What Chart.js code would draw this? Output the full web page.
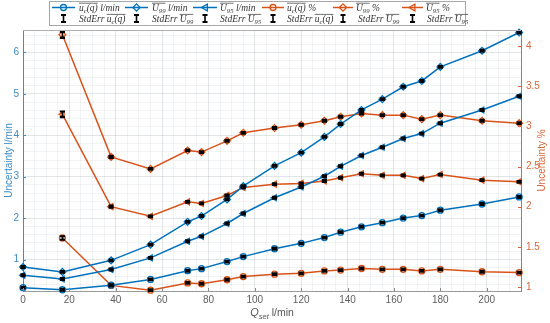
<!DOCTYPE html>
<html><head><meta charset="utf-8">
<script src="https://cdn.jsdelivr.net/npm/chart.js@4/dist/chart.umd.min.js"></script>
<style>html,body{margin:0;padding:0;background:#fff;}#wrap{width:550px;height:323px;position:relative;}</style>
</head><body><div id="wrap"><canvas id="c" width="550" height="323"></canvas></div>
<script>
// ---- data ----
const Qset     = [0,17,38,55,71,77,88,95,108.5,120,130,137,146,155,164,172,180,198,214];
const uc_lmin  = [0.32,0.27,0.38,0.52,0.73,0.78,0.95,1.07,1.26,1.39,1.53,1.66,1.79,1.89,2.00,2.06,2.19,2.34,2.51];
const U99_lmin = [0.82,0.70,0.98,1.36,1.91,2.05,2.45,2.77,3.26,3.58,3.96,4.27,4.61,4.87,5.17,5.31,5.65,6.04,6.48];
const U95_lmin = [0.62,0.53,0.76,1.04,1.44,1.56,1.87,2.11,2.49,2.75,3.01,3.25,3.51,3.71,3.92,4.04,4.29,4.61,4.94];
const uc_pct   = [null,1.61,1.02,0.96,1.05,1.04,1.09,1.13,1.16,1.17,1.20,1.21,1.23,1.22,1.22,1.20,1.22,1.19,1.18];
const U99_pct  = [null,4.14,2.62,2.47,2.70,2.68,2.82,2.92,2.98,3.02,3.07,3.12,3.16,3.14,3.14,3.09,3.14,3.07,3.04];
const U95_pct  = [null,3.15,2.00,1.88,2.06,2.04,2.14,2.24,2.28,2.29,2.32,2.36,2.41,2.39,2.39,2.35,2.40,2.33,2.31];
// standard errors
const se_uc_lmin  = [0.02,0.02,0.02,0.02,0.02,0.02,0.02,0.02,0.02,0.02,0.02,0.02,0.02,0.02,0.02,0.02,0.02,0.02,0.02];
const se_U99_lmin = [0.02,0.02,0.02,0.02,0.02,0.02,0.02,0.02,0.02,0.02,0.02,0.02,0.02,0.02,0.02,0.02,0.02,0.02,0.02];
const se_U95_lmin = [0.02,0.02,0.02,0.02,0.02,0.02,0.02,0.02,0.02,0.02,0.02,0.02,0.02,0.02,0.02,0.02,0.02,0.02,0.02];
const se_uc_pct   = [null,0.022,0.01,0.01,0.01,0.01,0.01,0.01,0.01,0.01,0.01,0.01,0.01,0.01,0.01,0.01,0.01,0.01,0.01];
const se_U99_pct  = [null,0.037,0.012,0.01,0.01,0.01,0.01,0.01,0.01,0.01,0.01,0.01,0.01,0.01,0.01,0.01,0.01,0.01,0.01];
const se_U95_pct  = [null,0.035,0.012,0.01,0.01,0.01,0.01,0.01,0.01,0.01,0.01,0.01,0.01,0.01,0.01,0.01,0.01,0.01,0.01];
// ticks
const xTickLabels  = [0,20,40,60,80,100,120,140,160,180,200];
const yLTickLabels = [1,2,3,4,5,6];
const yRTickLabels = [1,1.5,2,2.5,3,3.5,4];
// texts
const xTitle = ['Q','set',' l/min'];
const yLTitle = 'Uncertainty l/min';
const yRTitle = 'Uncertainty %';
const legendMain = [
  {base:'u',sub:'c',tail:'(q)',unit:' l/min'},
  {base:'U',sub:'99',tail:'',unit:' l/min'},
  {base:'U',sub:'95',tail:'',unit:' l/min'},
  {base:'u',sub:'c',tail:'(q)',unit:' %'},
  {base:'U',sub:'99',tail:'',unit:' %'},
  {base:'U',sub:'95',tail:'',unit:' %'}
];
const stdErrPrefix = 'StdErr ';

// ---- styling ----
const BLUE='#0072BD', ORANGE='#D95319';
const BLUE_T='#3f8cc6', ORANGE_T='#d8683a';
Chart.defaults.font.family='"Liberation Sans", Arial, Helvetica, sans-serif';
Chart.defaults.font.size=10;

function range(a,b,s){const r=[];for(let v=a;v<=b+1e-9;v+=s)r.push(Math.round(v*1000)/1000);return r;}
const xAll = range(0,210,5), yLAll = range(0.4,6.4,0.2);
const isIn=(arr,v)=>arr.some(a=>Math.abs(a-v)<1e-6);
const pts=arr=>Qset.map((q,i)=>({x:q,y:arr[i]}));

const defs=[
 {d:uc_lmin,se:se_uc_lmin,c:BLUE,s:'circle',ax:'yL',rot:0},
 {d:U99_lmin,se:se_U99_lmin,c:BLUE,s:'rectRot',ax:'yL',rot:0},
 {d:U95_lmin,se:se_U95_lmin,c:BLUE,s:'triangle',ax:'yL',rot:-90},
 {d:uc_pct,se:se_uc_pct,c:ORANGE,s:'circle',ax:'yR',rot:0},
 {d:U99_pct,se:se_U99_pct,c:ORANGE,s:'rectRot',ax:'yR',rot:0},
 {d:U95_pct,se:se_U95_pct,c:ORANGE,s:'triangle',ax:'yR',rot:-90}
];
const datasets=defs.map(o=>({
  data:pts(o.d), stdErr:o.se, yAxisID:o.ax, borderColor:o.c, borderWidth:1.5,
  pointStyle:o.s, pointRotation:o.rot, pointRadius:o.s==='circle'?3:3.4, pointBorderWidth:1.3,
  pointBorderColor:o.c, pointBackgroundColor:'rgba(0,0,0,0)', fill:false, tension:0, clip:false
}));

const errorBars={id:'errorBars',afterDatasetsDraw(chart){
  const ctx=chart.ctx;ctx.save();ctx.strokeStyle='#000';
  chart.data.datasets.forEach((ds,i)=>{
    const meta=chart.getDatasetMeta(i);const ys=chart.scales[ds.yAxisID];
    ds.data.forEach((p,j)=>{
      if(p.y==null)return;const e=ds.stdErr[j];const x=meta.data[j].x;
      const yt=ys.getPixelForValue(p.y+e),yb=ys.getPixelForValue(p.y-e);
      ctx.lineWidth=1.6;ctx.beginPath();ctx.moveTo(x,yt);ctx.lineTo(x,yb);ctx.stroke();
      ctx.lineWidth=2.2;ctx.beginPath();ctx.moveTo(x-2.6,yt);ctx.lineTo(x+2.6,yt);ctx.moveTo(x-2.6,yb);ctx.lineTo(x+2.6,yb);ctx.stroke();
    });
  });
  ctx.restore();
}};

function marker(ctx,style,x,y,c){
  ctx.save();ctx.strokeStyle=c;ctx.lineWidth=1.3;ctx.beginPath();
  if(style==='circle'){ctx.arc(x,y,3,0,Math.PI*2);}
  else if(style==='rectRot'){ctx.moveTo(x,y-3.6);ctx.lineTo(x+3.6,y);ctx.lineTo(x,y+3.6);ctx.lineTo(x-3.6,y);ctx.closePath();}
  else {ctx.moveTo(x-3.6,y);ctx.lineTo(x+2.4,y-3.4);ctx.lineTo(x+2.4,y+3.4);ctx.closePath();}
  ctx.stroke();ctx.restore();
}
function mathText(ctx,x,y,prefix,o,size){
  let cx=x;ctx.fillStyle='#333';ctx.textBaseline='alphabetic';ctx.textAlign='left';
  const f=(s)=>`italic ${s}px "Liberation Serif", "DejaVu Serif", serif`;
  if(prefix){ctx.font=f(size);ctx.fillText(prefix,cx,y);cx+=ctx.measureText(prefix).width;}
  const os=cx;
  ctx.font=f(size);ctx.fillText(o.base,cx,y);cx+=ctx.measureText(o.base).width;
  ctx.font=f(size*0.7);ctx.fillText(o.sub,cx,y+2);cx+=ctx.measureText(o.sub).width;
  if(o.tail){ctx.font=f(size);ctx.fillText(o.tail,cx,y);cx+=ctx.measureText(o.tail).width;}
  const oe=cx;
  ctx.strokeStyle='#333';ctx.lineWidth=0.7;ctx.beginPath();ctx.moveTo(os,y-7.6);ctx.lineTo(oe,y-7.6);ctx.stroke();
  if(!prefix){ctx.font=f(size);ctx.fillText(o.unit,cx,y);}
}

const decor={id:'decor',afterDraw(chart){
  const ctx=chart.ctx,a=chart.chartArea,sx=chart.scales.x,sl=chart.scales.yL,sr=chart.scales.yR;
  ctx.save();
  ctx.strokeStyle='#b0b0b0';ctx.lineWidth=1;ctx.beginPath();ctx.moveTo(a.left,a.top+0.5);ctx.lineTo(a.right,a.top+0.5);ctx.stroke();
  ctx.strokeStyle='#8a8a8a';ctx.beginPath();
  xTickLabels.forEach(v=>{const x=Math.round(sx.getPixelForValue(v))+0.5;ctx.moveTo(x,a.bottom);ctx.lineTo(x,a.bottom-3);});ctx.stroke();
  ctx.strokeStyle=BLUE_T;ctx.beginPath();
  yLTickLabels.forEach(v=>{const y=Math.round(sl.getPixelForValue(v))+0.5;ctx.moveTo(a.left,y);ctx.lineTo(a.left+3,y);});ctx.stroke();
  ctx.strokeStyle=ORANGE_T;ctx.beginPath();
  yRTickLabels.forEach(v=>{const y=Math.round(sr.getPixelForValue(v))+0.5;ctx.moveTo(a.right,y);ctx.lineTo(a.right-3,y);});ctx.stroke();
  ctx.font='10px "Liberation Sans", Arial, sans-serif';ctx.textAlign='center';ctx.textBaseline='middle';
  ctx.fillStyle=BLUE_T;ctx.save();ctx.translate(9,(a.top+a.bottom)/2);ctx.rotate(-Math.PI/2);ctx.fillText(yLTitle,0,0);ctx.restore();
  ctx.fillStyle=ORANGE_T;ctx.save();ctx.translate(542,(a.top+a.bottom)/2);ctx.rotate(-Math.PI/2);ctx.fillText(yRTitle,0,0);ctx.restore();
  ctx.fillStyle='#555';ctx.textAlign='left';ctx.textBaseline='alphabetic';
  const fQ='italic 11px "Liberation Sans", Arial, sans-serif',fS='italic 7.5px "Liberation Sans", Arial, sans-serif',fU='10.5px "Liberation Sans", Arial, sans-serif';
  ctx.font=fQ;const w1=ctx.measureText(xTitle[0]).width;ctx.font=fS;const w2=ctx.measureText(xTitle[1]).width;ctx.font=fU;const w3=ctx.measureText(xTitle[2]).width;
  let cx=(a.left+a.right)/2-(w1+w2+w3)/2;const by=316;
  ctx.font=fQ;ctx.fillText(xTitle[0],cx,by);cx+=w1;ctx.font=fS;ctx.fillText(xTitle[1],cx,by+3);cx+=w2;ctx.font=fU;ctx.fillText(xTitle[2],cx,by);
  ctx.fillStyle='#fff';ctx.fillRect(49.5,1.5,416,24);ctx.strokeStyle='#a8a8a8';ctx.lineWidth=1;ctx.strokeRect(49.5,1.5,416,24);
  const lineX=[[52,75],[125,148],[193,217],[262,284],[333,353],[402,423]];
  const txtX1=[79,152,220,287,356,426], txtX2=[79,152,220,287,358,427];
  defs.forEach((o,i)=>{
    const [x0,x1]=lineX[i];const xc=(x0+x1)/2;
    ctx.strokeStyle=o.c;ctx.lineWidth=1.5;ctx.beginPath();ctx.moveTo(x0,7.5);ctx.lineTo(x1,7.5);ctx.stroke();
    marker(ctx,o.s,xc,7.5,o.c);
    mathText(ctx,txtX1[i],10.8,'',legendMain[i],9.5);
    ctx.strokeStyle='#000';ctx.lineWidth=1.6;ctx.beginPath();ctx.moveTo(xc,15);ctx.lineTo(xc,22);ctx.stroke();
    ctx.lineWidth=1.8;ctx.beginPath();ctx.moveTo(xc-2.5,15);ctx.lineTo(xc+2.5,15);ctx.moveTo(xc-2.5,22);ctx.lineTo(xc+2.5,22);ctx.stroke();
    mathText(ctx,txtX2[i],22,stdErrPrefix,legendMain[i],9.5);
  });
  ctx.restore();
}};

const MAJ='rgba(60,80,100,0.14)',MIN='rgba(60,80,100,0.07)';
new Chart(document.getElementById('c'),{
  type:'line',
  data:{datasets},
  options:{
    responsive:false,animation:false,devicePixelRatio:1,
    layout:{padding:{top:30,left:0,right:0,bottom:0}},
    plugins:{legend:{display:false},tooltip:{enabled:false}},
    scales:{
      x:{type:'linear',min:0,max:214.8,
        afterBuildTicks:ax=>{ax.ticks=xAll.map(v=>({value:v}));},
        afterFit:s=>{s.height=32;},
        ticks:{autoSkip:false,maxRotation:0,padding:3,color:'#606060',callback:v=>isIn(xTickLabels,v)?String(v):''},
        grid:{drawTicks:false,color:c=>(c.tick&&isIn(xTickLabels,c.tick.value))?MAJ:MIN},
        border:{display:true,color:'#9a9a9a',width:1}},
      yL:{type:'linear',position:'left',min:0.24,max:6.54,
        afterBuildTicks:ax=>{ax.ticks=yLAll.map(v=>({value:v}));},
        afterFit:s=>{s.width=23;},
        ticks:{autoSkip:false,padding:4,color:BLUE_T,callback:v=>isIn(yLTickLabels,v)?String(v):''},
        grid:{drawTicks:false,color:c=>(c.tick&&isIn(yLTickLabels,c.tick.value))?MAJ:MIN},
        border:{display:true,color:BLUE_T,width:1}},
      yR:{type:'linear',position:'right',min:0.95,max:4.2,
        afterBuildTicks:ax=>{ax.ticks=yRTickLabels.map(v=>({value:v}));},
        afterFit:s=>{s.width=29;},
        ticks:{autoSkip:false,padding:5,color:ORANGE_T,callback:v=>String(v)},
        grid:{drawTicks:false,drawOnChartArea:false},
        border:{display:true,color:ORANGE_T,width:1}}
    }
  },
  plugins:[errorBars,decor]
});
</script></body></html>
